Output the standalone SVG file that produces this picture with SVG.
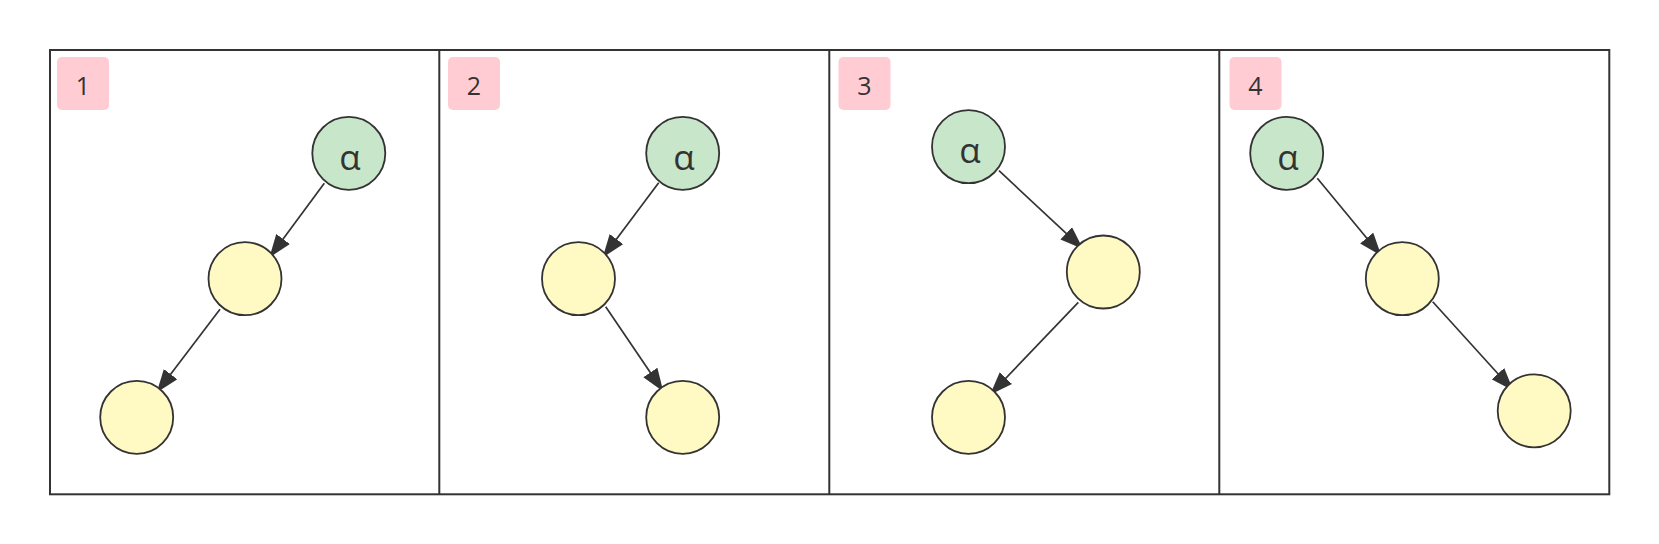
<svg xmlns="http://www.w3.org/2000/svg" width="1659" height="544" viewBox="0 0 1659 544">
<style>
.frame{fill:none;stroke:#333;stroke-width:2}
.tag{fill:#ffccd3}
.tagt{font-family:"Open Sans","Noto Sans",sans-serif;font-size:25px;fill:#333;text-anchor:middle}
.g{fill:#c8e6c9;stroke:#333;stroke-width:1.8}
.y{fill:#fff9c4;stroke:#333;stroke-width:1.8}
.a{font-family:"Open Sans","Noto Sans",sans-serif;font-size:35px;fill:#333;text-anchor:middle}
.e{stroke:#333;stroke-width:1.7;fill:none;marker-end:url(#arr)}
</style>
<defs>
<marker id="arr" markerUnits="userSpaceOnUse" markerWidth="23" markerHeight="17" viewBox="0 0 23 17" refX="22" refY="8.5" orient="auto">
<path d="M0,0 L23,8.5 L0,17 z" fill="#333"/>
</marker>
</defs>
<rect width="1659" height="544" fill="#fff"/>
<g id="frames">
<rect class="frame" x="50" y="50" width="1559.3" height="444.3"/>
<line class="frame" x1="439.3" y1="50" x2="439.3" y2="494.3"/>
<line class="frame" x1="829.3" y1="50" x2="829.3" y2="494.3"/>
<line class="frame" x1="1219.3" y1="50" x2="1219.3" y2="494.3"/>
</g>
<g id="tag1"><rect class="tag" x="57" y="57" width="52" height="53" rx="5"/><text class="tagt" x="83" y="95">1</text></g>
<g id="tag2"><rect class="tag" x="448" y="57" width="52" height="53" rx="5"/><text class="tagt" x="474" y="95">2</text></g>
<g id="tag3"><rect class="tag" x="838.5" y="57" width="52" height="53" rx="5"/><text class="tagt" x="864.5" y="95">3</text></g>
<g id="tag4"><rect class="tag" x="1229.5" y="57" width="52" height="53" rx="5"/><text class="tagt" x="1255.5" y="95">4</text></g>
<g id="connectors">
<line class="e" x1="324.3" y1="183.3" x2="270" y2="256.7"/>
<line class="e" x1="220" y1="309.3" x2="157.3" y2="391.7"/>
<line class="e" x1="658.7" y1="182.7" x2="603.3" y2="256.7"/>
<line class="e" x1="605.7" y1="306.7" x2="662.7" y2="390.7"/>
<line class="e" x1="999" y1="170.7" x2="1082.3" y2="248.3"/>
<line class="e" x1="1078.3" y1="302.3" x2="990.7" y2="394"/>
<line class="e" x1="1317.3" y1="178.3" x2="1380.7" y2="255"/>
<line class="e" x1="1432.7" y1="301.7" x2="1512.7" y2="390"/>
</g>
<g id="p1a"><circle class="g" cx="348.8" cy="153.3" r="36.5"/><text class="a" x="350" y="169.5">α</text></g>
<g id="p1b"><circle class="y" cx="245" cy="278.7" r="36.5"/></g>
<g id="p1c"><circle class="y" cx="136.7" cy="417.3" r="36.5"/></g>
<g id="p2a"><circle class="g" cx="682.7" cy="153.3" r="36.5"/><text class="a" x="684" y="169.5">α</text></g>
<g id="p2b"><circle class="y" cx="578.5" cy="278.7" r="36.5"/></g>
<g id="p2c"><circle class="y" cx="682.7" cy="417.3" r="36.5"/></g>
<g id="p3a"><circle class="g" cx="968.5" cy="146.7" r="36.5"/><text class="a" x="970" y="163">α</text></g>
<g id="p3b"><circle class="y" cx="1103.3" cy="272" r="36.5"/></g>
<g id="p3c"><circle class="y" cx="968.5" cy="417.3" r="36.5"/></g>
<g id="p4a"><circle class="g" cx="1286.7" cy="153.3" r="36.5"/><text class="a" x="1288" y="169.5">α</text></g>
<g id="p4b"><circle class="y" cx="1402.3" cy="278.7" r="36.5"/></g>
<g id="p4c"><circle class="y" cx="1534.2" cy="410.8" r="36.5"/></g>
</svg>
